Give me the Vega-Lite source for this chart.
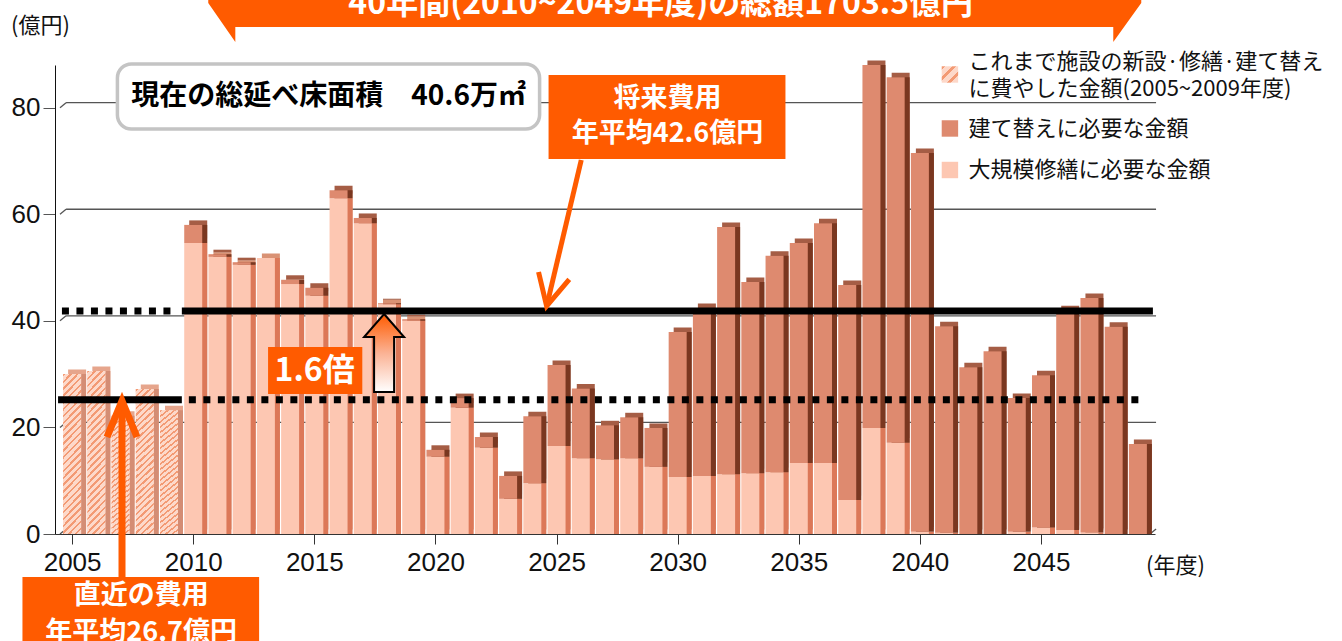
{
"$schema": "https://vega.github.io/schema/vega-lite/v6.json",
"width": 1100,
"height": 469,
"autosize": {"type": "none"},
"padding": {"left": 55, "top": 65, "right": 187, "bottom": 107},
"background": "#ffffff",
"config": {
  "view": {"stroke": null},
  "font": "Noto Sans CJK JP",
  "axis": {"labelFont": "Liberation Sans", "labelFontSize": 26, "labelColor": "#111", "titleFont": "Noto Sans CJK JP", "titleFontWeight": "normal", "titleFontSize": 22, "titleColor": "#111", "domainColor": "#222", "tickColor": "#444", "grid": false}
},
"data": {"values": [{}]},
"datasets": {
  "costs": [
    {"year": 2005, "type": "これまで施設の新設・修繕・建て替えに費やした金額(2005~2009年度)", "value": 30.0},
    {"year": 2006, "type": "これまで施設の新設・修繕・建て替えに費やした金額(2005~2009年度)", "value": 30.6},
    {"year": 2007, "type": "これまで施設の新設・修繕・建て替えに費やした金額(2005~2009年度)", "value": 22.2},
    {"year": 2008, "type": "これまで施設の新設・修繕・建て替えに費やした金額(2005~2009年度)", "value": 27.2},
    {"year": 2009, "type": "これまで施設の新設・修繕・建て替えに費やした金額(2005~2009年度)", "value": 23.2},
    {"year": 2010, "type": "大規模修繕に必要な金額", "value": 54.6}, {"year": 2010, "type": "建て替えに必要な金額", "value": 3.4},
    {"year": 2011, "type": "大規模修繕に必要な金額", "value": 52.0}, {"year": 2011, "type": "建て替えに必要な金額", "value": 0.5},
    {"year": 2012, "type": "大規模修繕に必要な金額", "value": 50.5}, {"year": 2012, "type": "建て替えに必要な金額", "value": 0.5},
    {"year": 2013, "type": "大規模修繕に必要な金額", "value": 51.8}, {"year": 2013, "type": "建て替えに必要な金額", "value": 0},
    {"year": 2014, "type": "大規模修繕に必要な金額", "value": 46.9}, {"year": 2014, "type": "建て替えに必要な金額", "value": 0.8},
    {"year": 2015, "type": "大規模修繕に必要な金額", "value": 44.7}, {"year": 2015, "type": "建て替えに必要な金額", "value": 1.5},
    {"year": 2016, "type": "大規模修繕に必要な金額", "value": 63.0}, {"year": 2016, "type": "建て替えに必要な金額", "value": 1.5},
    {"year": 2017, "type": "大規模修繕に必要な金額", "value": 58.3}, {"year": 2017, "type": "建て替えに必要な金額", "value": 1.0},
    {"year": 2018, "type": "大規模修繕に必要な金額", "value": 43.1}, {"year": 2018, "type": "建て替えに必要な金額", "value": 0.2},
    {"year": 2019, "type": "大規模修繕に必要な金額", "value": 40.0}, {"year": 2019, "type": "建て替えに必要な金額", "value": 0.3},
    {"year": 2020, "type": "大規模修繕に必要な金額", "value": 14.5}, {"year": 2020, "type": "建て替えに必要な金額", "value": 1.3},
    {"year": 2021, "type": "大規模修繕に必要な金額", "value": 23.7}, {"year": 2021, "type": "建て替えに必要な金額", "value": 1.8},
    {"year": 2022, "type": "大規模修繕に必要な金額", "value": 16.2}, {"year": 2022, "type": "建て替えに必要な金額", "value": 2.0},
    {"year": 2023, "type": "大規模修繕に必要な金額", "value": 6.6}, {"year": 2023, "type": "建て替えに必要な金額", "value": 4.3},
    {"year": 2024, "type": "大規模修繕に必要な金額", "value": 9.5}, {"year": 2024, "type": "建て替えに必要な金額", "value": 12.6},
    {"year": 2025, "type": "大規模修繕に必要な金額", "value": 16.5}, {"year": 2025, "type": "建て替えに必要な金額", "value": 15.2},
    {"year": 2026, "type": "大規模修繕に必要な金額", "value": 14.2}, {"year": 2026, "type": "建て替えに必要な金額", "value": 13.1},
    {"year": 2027, "type": "大規模修繕に必要な金額", "value": 14.0}, {"year": 2027, "type": "建て替えに必要な金額", "value": 6.4},
    {"year": 2028, "type": "大規模修繕に必要な金額", "value": 14.2}, {"year": 2028, "type": "建て替えに必要な金額", "value": 7.7},
    {"year": 2029, "type": "大規模修繕に必要な金額", "value": 12.6}, {"year": 2029, "type": "建て替えに必要な金額", "value": 7.3},
    {"year": 2030, "type": "大規模修繕に必要な金額", "value": 10.7}, {"year": 2030, "type": "建て替えに必要な金額", "value": 27.2},
    {"year": 2031, "type": "大規模修繕に必要な金額", "value": 10.9}, {"year": 2031, "type": "建て替えに必要な金額", "value": 31.5},
    {"year": 2032, "type": "大規模修繕に必要な金額", "value": 11.2}, {"year": 2032, "type": "建て替えに必要な金額", "value": 46.4},
    {"year": 2033, "type": "大規模修繕に必要な金額", "value": 11.4}, {"year": 2033, "type": "建て替えに必要な金額", "value": 35.9},
    {"year": 2034, "type": "大規模修繕に必要な金額", "value": 11.6}, {"year": 2034, "type": "建て替えに必要な金額", "value": 40.6},
    {"year": 2035, "type": "大規模修繕に必要な金額", "value": 13.3}, {"year": 2035, "type": "建て替えに必要な金額", "value": 41.3},
    {"year": 2036, "type": "大規模修繕に必要な金額", "value": 13.3}, {"year": 2036, "type": "建て替えに必要な金額", "value": 45.0},
    {"year": 2037, "type": "大規模修繕に必要な金額", "value": 6.4}, {"year": 2037, "type": "建て替えに必要な金額", "value": 40.3},
    {"year": 2038, "type": "大規模修繕に必要な金額", "value": 19.9}, {"year": 2038, "type": "建て替えに必要な金額", "value": 68.1},
    {"year": 2039, "type": "大規模修繕に必要な金額", "value": 17.1}, {"year": 2039, "type": "建て替えに必要な金額", "value": 68.6},
    {"year": 2040, "type": "大規模修繕に必要な金額", "value": 0.4}, {"year": 2040, "type": "建て替えに必要な金額", "value": 71.1},
    {"year": 2041, "type": "大規模修繕に必要な金額", "value": 0.25}, {"year": 2041, "type": "建て替えに必要な金額", "value": 38.75},
    {"year": 2042, "type": "大規模修繕に必要な金額", "value": 0}, {"year": 2042, "type": "建て替えに必要な金額", "value": 31.3},
    {"year": 2043, "type": "大規模修繕に必要な金額", "value": 0}, {"year": 2043, "type": "建て替えに必要な金額", "value": 34.3},
    {"year": 2044, "type": "大規模修繕に必要な金額", "value": 0.4}, {"year": 2044, "type": "建て替えに必要な金額", "value": 25.1},
    {"year": 2045, "type": "大規模修繕に必要な金額", "value": 1.2}, {"year": 2045, "type": "建て替えに必要な金額", "value": 28.6},
    {"year": 2046, "type": "大規模修繕に必要な金額", "value": 0.75}, {"year": 2046, "type": "建て替えに必要な金額", "value": 41.25},
    {"year": 2047, "type": "大規模修繕に必要な金額", "value": 0.3}, {"year": 2047, "type": "建て替えに必要な金額", "value": 44.0},
    {"year": 2048, "type": "大規模修繕に必要な金額", "value": 0}, {"year": 2048, "type": "建て替えに必要な金額", "value": 38.9},
    {"year": 2049, "type": "大規模修繕に必要な金額", "value": 0}, {"year": 2049, "type": "建て替えに必要な金額", "value": 16.9}
  ],
  "grid": [{"g": 20}, {"g": 40}, {"g": 60}, {"g": 80}],
  "ticks": [{"g": 0}, {"g": 20}, {"g": 40}, {"g": 60}, {"g": 80}]
},
"layer": [
  {
    "data": {"name": "grid"},
    "mark": {"type": "rule", "color": "#555555", "strokeWidth": 1.3, "yOffset": -5, "y2Offset": -5},
    "encoding": {
      "x": {"datum": 2004.75, "type": "quantitative", "scale": {"domain": [2004.5, 2049.5], "nice": false, "zero": false}},
      "x2": {"datum": 2049.75},
      "y": {"field": "g", "type": "quantitative", "scale": {"domain": [0, 88], "nice": false}}
    }
  },
  {
    "data": {"name": "ticks"},
    "mark": {"type": "rule", "color": "#555555", "strokeWidth": 1.3, "y2Offset": -5},
    "encoding": {
      "x": {"datum": 2004.5, "type": "quantitative"},
      "x2": {"datum": 2004.75},
      "y": {"field": "g", "type": "quantitative"},
      "y2": {"field": "g"}
    }
  },
  {
    "mark": {"type": "rule", "color": "#555555", "strokeWidth": 1.3, "y2Offset": -5},
    "encoding": {
      "x": {"datum": 2049.5, "type": "quantitative"},
      "x2": {"datum": 2049.75},
      "y": {"datum": 0, "type": "quantitative"},
      "y2": {"datum": 0}
    }
  },
  {
    "data": {"name": "costs"},
    "mark": {"type": "bar", "width": 18, "xOffset": 5, "x2Offset": 5, "yOffset": -4.5, "y2Offset": -4.5},
    "encoding": {
      "x": {"field": "year", "type": "quantitative"},
      "y": {"field": "value", "type": "quantitative", "stack": "zero"},
      "color": {"field": "type", "type": "nominal", "legend": null,
        "scale": {"domain": ["これまで施設の新設・修繕・建て替えに費やした金額(2005~2009年度)", "建て替えに必要な金額", "大規模修繕に必要な金額"], "range": ["#e6a58c", "#a55d45", "#d99274"]}},
      "order": {"field": "type", "sort": "ascending"}
    }
  },
  {
    "data": {"name": "costs"},
    "mark": {"type": "bar", "width": 18, "xOffset": 5, "x2Offset": 5},
    "encoding": {
      "x": {"field": "year", "type": "quantitative"},
      "y": {"field": "value", "type": "quantitative", "stack": "zero"},
      "color": {"field": "type", "type": "nominal", "legend": null,
        "scale": {"domain": ["これまで施設の新設・修繕・建て替えに費やした金額(2005~2009年度)", "建て替えに必要な金額", "大規模修繕に必要な金額"], "range": ["#d48d74", "#7a3720", "#dc7858"]}},
      "order": {"field": "type", "sort": "ascending"}
    }
  },
  {
    "data": {"name": "costs"},
    "mark": {"type": "bar", "width": 18},
    "encoding": {
      "x": {"field": "year", "type": "quantitative",
        "axis": {"values": [2005, 2010, 2015, 2020, 2025, 2030, 2035, 2040, 2045], "format": "d", "tickSize": 10, "labelPadding": 5, "domainColor": "#333333", "tickColor": "#333333",
          "title": "(年度)", "titleX": 1120, "titleY": 31, "titleAlign": "center", "titleBaseline": "middle"}},
      "y": {"field": "value", "type": "quantitative", "stack": "zero",
        "axis": {"values": [0, 20, 40, 60, 80], "tickSize": 12, "labelPadding": 3, "domainColor": "#111111", "tickColor": "#555555",
          "title": "(億円)", "titleAngle": 0, "titleX": -15, "titleY": -40, "titleAlign": "center", "titleBaseline": "middle"}},
      "color": {"field": "type", "type": "nominal", "legend": null,
        "scale": {"domain": ["これまで施設の新設・修繕・建て替えに費やした金額(2005~2009年度)", "建て替えに必要な金額", "大規模修繕に必要な金額"], "range": ["#fdd8c9", "#de8a6f", "#fdc7b2"]}},
      "order": {"field": "type", "sort": "ascending"}
    }
  },
  {
    "data": {"name": "costs"},
    "transform": [{"filter": {"field": "type", "equal": "これまで施設の新設・修繕・建て替えに費やした金額(2005~2009年度)"}}],
    "mark": {"type": "bar", "width": 18, "fill": {"gradient": "linear", "x1": 0, "y1": 0, "x2": 0.128, "y2": 1.1, "stops": [
      {"offset": 0, "color": "#f39a74"}, {"offset": 0.0142, "color": "#f39a74"}, {"offset": 0.0142, "color": "#fdd9ca"}, {"offset": 0.0385, "color": "#fdd9ca"},
      {"offset": 0.0385, "color": "#f39a74"}, {"offset": 0.0527, "color": "#f39a74"}, {"offset": 0.0527, "color": "#fdd9ca"}, {"offset": 0.0769, "color": "#fdd9ca"},
      {"offset": 0.0769, "color": "#f39a74"}, {"offset": 0.0912, "color": "#f39a74"}, {"offset": 0.0912, "color": "#fdd9ca"}, {"offset": 0.1154, "color": "#fdd9ca"},
      {"offset": 0.1154, "color": "#f39a74"}, {"offset": 0.1296, "color": "#f39a74"}, {"offset": 0.1296, "color": "#fdd9ca"}, {"offset": 0.1538, "color": "#fdd9ca"},
      {"offset": 0.1538, "color": "#f39a74"}, {"offset": 0.1681, "color": "#f39a74"}, {"offset": 0.1681, "color": "#fdd9ca"}, {"offset": 0.1923, "color": "#fdd9ca"},
      {"offset": 0.1923, "color": "#f39a74"}, {"offset": 0.2065, "color": "#f39a74"}, {"offset": 0.2065, "color": "#fdd9ca"}, {"offset": 0.2308, "color": "#fdd9ca"},
      {"offset": 0.2308, "color": "#f39a74"}, {"offset": 0.2450, "color": "#f39a74"}, {"offset": 0.2450, "color": "#fdd9ca"}, {"offset": 0.2692, "color": "#fdd9ca"},
      {"offset": 0.2692, "color": "#f39a74"}, {"offset": 0.2835, "color": "#f39a74"}, {"offset": 0.2835, "color": "#fdd9ca"}, {"offset": 0.3077, "color": "#fdd9ca"},
      {"offset": 0.3077, "color": "#f39a74"}, {"offset": 0.3219, "color": "#f39a74"}, {"offset": 0.3219, "color": "#fdd9ca"}, {"offset": 0.3462, "color": "#fdd9ca"},
      {"offset": 0.3462, "color": "#f39a74"}, {"offset": 0.3604, "color": "#f39a74"}, {"offset": 0.3604, "color": "#fdd9ca"}, {"offset": 0.3846, "color": "#fdd9ca"},
      {"offset": 0.3846, "color": "#f39a74"}, {"offset": 0.3988, "color": "#f39a74"}, {"offset": 0.3988, "color": "#fdd9ca"}, {"offset": 0.4231, "color": "#fdd9ca"},
      {"offset": 0.4231, "color": "#f39a74"}, {"offset": 0.4373, "color": "#f39a74"}, {"offset": 0.4373, "color": "#fdd9ca"}, {"offset": 0.4615, "color": "#fdd9ca"},
      {"offset": 0.4615, "color": "#f39a74"}, {"offset": 0.4758, "color": "#f39a74"}, {"offset": 0.4758, "color": "#fdd9ca"}, {"offset": 0.5, "color": "#fdd9ca"},
      {"offset": 0.5, "color": "#f39a74"}, {"offset": 0.5142, "color": "#f39a74"}, {"offset": 0.5142, "color": "#fdd9ca"}, {"offset": 0.5385, "color": "#fdd9ca"},
      {"offset": 0.5385, "color": "#f39a74"}, {"offset": 0.5527, "color": "#f39a74"}, {"offset": 0.5527, "color": "#fdd9ca"}, {"offset": 0.5769, "color": "#fdd9ca"},
      {"offset": 0.5769, "color": "#f39a74"}, {"offset": 0.5912, "color": "#f39a74"}, {"offset": 0.5912, "color": "#fdd9ca"}, {"offset": 0.6154, "color": "#fdd9ca"},
      {"offset": 0.6154, "color": "#f39a74"}, {"offset": 0.6296, "color": "#f39a74"}, {"offset": 0.6296, "color": "#fdd9ca"}, {"offset": 0.6538, "color": "#fdd9ca"},
      {"offset": 0.6538, "color": "#f39a74"}, {"offset": 0.6681, "color": "#f39a74"}, {"offset": 0.6681, "color": "#fdd9ca"}, {"offset": 0.6923, "color": "#fdd9ca"},
      {"offset": 0.6923, "color": "#f39a74"}, {"offset": 0.7065, "color": "#f39a74"}, {"offset": 0.7065, "color": "#fdd9ca"}, {"offset": 0.7308, "color": "#fdd9ca"},
      {"offset": 0.7308, "color": "#f39a74"}, {"offset": 0.7450, "color": "#f39a74"}, {"offset": 0.7450, "color": "#fdd9ca"}, {"offset": 0.7692, "color": "#fdd9ca"},
      {"offset": 0.7692, "color": "#f39a74"}, {"offset": 0.7835, "color": "#f39a74"}, {"offset": 0.7835, "color": "#fdd9ca"}, {"offset": 0.8077, "color": "#fdd9ca"},
      {"offset": 0.8077, "color": "#f39a74"}, {"offset": 0.8219, "color": "#f39a74"}, {"offset": 0.8219, "color": "#fdd9ca"}, {"offset": 0.8462, "color": "#fdd9ca"},
      {"offset": 0.8462, "color": "#f39a74"}, {"offset": 0.8604, "color": "#f39a74"}, {"offset": 0.8604, "color": "#fdd9ca"}, {"offset": 0.8846, "color": "#fdd9ca"},
      {"offset": 0.8846, "color": "#f39a74"}, {"offset": 0.8988, "color": "#f39a74"}, {"offset": 0.8988, "color": "#fdd9ca"}, {"offset": 0.9231, "color": "#fdd9ca"},
      {"offset": 0.9231, "color": "#f39a74"}, {"offset": 0.9373, "color": "#f39a74"}, {"offset": 0.9373, "color": "#fdd9ca"}, {"offset": 0.9615, "color": "#fdd9ca"},
      {"offset": 0.9615, "color": "#f39a74"}, {"offset": 0.9758, "color": "#f39a74"}, {"offset": 0.9758, "color": "#fdd9ca"}, {"offset": 1, "color": "#fdd9ca"}]}},
    "encoding": {
      "x": {"field": "year", "type": "quantitative"},
      "y": {"field": "value", "type": "quantitative"}
    }
  },
  {
    "mark": {"type": "point", "shape": "square", "size": 270, "filled": true, "strokeWidth": 0, "opacity": 1,
      "fill": {"gradient": "linear", "x1": 0, "y1": 0, "x2": 1, "y2": 1, "stops": [
        {"offset": 0, "color": "#f39a74"}, {"offset": 0.12, "color": "#f39a74"}, {"offset": 0.12, "color": "#fdd8c9"}, {"offset": 0.333, "color": "#fdd8c9"},
        {"offset": 0.333, "color": "#f39a74"}, {"offset": 0.453, "color": "#f39a74"}, {"offset": 0.453, "color": "#fdd8c9"}, {"offset": 0.667, "color": "#fdd8c9"},
        {"offset": 0.667, "color": "#f39a74"}, {"offset": 0.787, "color": "#f39a74"}, {"offset": 0.787, "color": "#fdd8c9"}, {"offset": 1, "color": "#fdd8c9"}]}},
    "encoding": {"x": {"datum": 2041.24, "type": "quantitative"}, "y": {"datum": 86.22, "type": "quantitative"}}
  },
  {
    "mark": {"type": "point", "shape": "square", "size": 270, "filled": true, "strokeWidth": 0, "opacity": 1, "fill": "#de8a6f"},
    "encoding": {"x": {"datum": 2041.24, "type": "quantitative"}, "y": {"datum": 76.09, "type": "quantitative"}}
  },
  {
    "mark": {"type": "point", "shape": "square", "size": 270, "filled": true, "strokeWidth": 0, "opacity": 1, "fill": "#fdc7b2"},
    "encoding": {"x": {"datum": 2041.24, "type": "quantitative"}, "y": {"datum": 68.3, "type": "quantitative"}}
  },
  {
    "mark": {"type": "text", "text": "これまで施設の新設·修繕·建て替え", "fontSize": 22, "align": "left", "color": "#111111"},
    "encoding": {"x": {"datum": 2042.01, "type": "quantitative"}, "y": {"datum": 88.57, "type": "quantitative"}}
  },
  {
    "mark": {"type": "text", "text": "に費やした金額(2005~2009年度)", "fontSize": 22, "align": "left", "color": "#111111"},
    "encoding": {"x": {"datum": 2042.01, "type": "quantitative"}, "y": {"datum": 83.5, "type": "quantitative"}}
  },
  {
    "mark": {"type": "text", "text": "建て替えに必要な金額", "fontSize": 22, "align": "left", "color": "#111111"},
    "encoding": {"x": {"datum": 2042.01, "type": "quantitative"}, "y": {"datum": 75.99, "type": "quantitative"}}
  },
  {
    "mark": {"type": "text", "text": "大規模修繕に必要な金額", "fontSize": 22, "align": "left", "color": "#111111"},
    "encoding": {"x": {"datum": 2042.01, "type": "quantitative"}, "y": {"datum": 68.3, "type": "quantitative"}}
  },
  {
    "mark": {"type": "rule", "color": "#000000", "strokeWidth": 7, "strokeDash": [7, 7.5], "yOffset": 4},
    "encoding": {"x": {"datum": 2004.58, "type": "quantitative"}, "x2": {"datum": 2009.2}, "y": {"datum": 42.6, "type": "quantitative"}}
  },
  {
    "mark": {"type": "rule", "color": "#000000", "strokeWidth": 7, "yOffset": 4},
    "encoding": {"x": {"datum": 2009.53, "type": "quantitative"}, "x2": {"datum": 2049.62}, "y": {"datum": 42.6, "type": "quantitative"}}
  },
  {
    "mark": {"type": "rule", "color": "#000000", "strokeWidth": 7, "yOffset": 8},
    "encoding": {"x": {"datum": 2004.42, "type": "quantitative"}, "x2": {"datum": 2009.53}, "y": {"datum": 26.7, "type": "quantitative"}}
  },
  {
    "mark": {"type": "rule", "color": "#000000", "strokeWidth": 7, "strokeDash": [7, 7.5], "yOffset": 8},
    "encoding": {"x": {"datum": 2009.82, "type": "quantitative"}, "x2": {"datum": 2049.3}, "y": {"datum": 26.7, "type": "quantitative"}}
  },
  {
    "mark": {"type": "point", "shape": "M -1 -0.0772 L 1 -0.0772 L 1 -0.0279 L 0.94 0.0557 L 0.94 0.0236 L -0.942 0.0236 L -0.942 0.0557 L -1 -0.0279 Z", "size": 870489, "filled": true, "fill": "#ff5b00", "strokeWidth": 0, "opacity": 1},
    "encoding": {"x": {"datum": 2029.88, "type": "quantitative"}, "y": {"datum": 97.19, "type": "quantitative"}}
  },
  {
    "mark": {"type": "text", "text": "40年間(2010~2049年度)の総額1703.5億円", "fontSize": 32, "fontWeight": "bold", "color": "#ffffff", "baseline": "alphabetic"},
    "encoding": {"x": {"datum": 2029.3, "type": "quantitative"}, "y": {"datum": 97.57, "type": "quantitative"}}
  },
  {
    "mark": {"type": "rect", "fill": "#ffffff", "stroke": "#c4c4c4", "strokeWidth": 3.5, "cornerRadius": 14},
    "encoding": {"x": {"datum": 2006.87, "type": "quantitative"}, "x2": {"datum": 2024.3}, "y": {"datum": 88.19, "type": "quantitative"}, "y2": {"datum": 75.99}}
  },
  {
    "mark": {"type": "text", "text": "現在の総延べ床面積　40.6万㎡", "fontSize": 28, "fontWeight": "bold", "color": "#000000"},
    "encoding": {"x": {"datum": 2015.59, "type": "quantitative"}, "y": {"datum": 82.0, "type": "quantitative"}}
  },
  {
    "mark": {"type": "rect", "fill": "#ff5b00"},
    "encoding": {"x": {"datum": 2024.67, "type": "quantitative"}, "x2": {"datum": 2034.45}, "y": {"datum": 86.12, "type": "quantitative"}, "y2": {"datum": 70.36}}
  },
  {
    "mark": {"type": "text", "text": "将来費用", "fontSize": 27, "fontWeight": "bold", "color": "#ffffff"},
    "encoding": {"x": {"datum": 2029.58, "type": "quantitative"}, "y": {"datum": 81.6, "type": "quantitative"}}
  },
  {
    "mark": {"type": "text", "text": "年平均42.6億円", "fontSize": 27, "fontWeight": "bold", "color": "#ffffff"},
    "encoding": {"x": {"datum": 2029.58, "type": "quantitative"}, "y": {"datum": 75.0, "type": "quantitative"}}
  },
  {
    "mark": {"type": "rule", "color": "#ff5b00", "strokeWidth": 5},
    "encoding": {"x": {"datum": 2026.02, "type": "quantitative"}, "y": {"datum": 70.18, "type": "quantitative"}, "x2": {"datum": 2024.62}, "y2": {"datum": 43.3}}
  },
  {
    "mark": {"type": "point", "shape": "M -0.878 1.733 L 0 0 L 0.878 1.733", "size": 1296, "filled": false, "color": "#ff5b00", "strokeWidth": 5, "strokeJoin": "miter", "angle": 193.5, "opacity": 1},
    "encoding": {"x": {"datum": 2024.59, "type": "quantitative"}, "y": {"datum": 42.78, "type": "quantitative"}}
  },
  {
    "mark": {"type": "rect", "fill": "#ff5b00"},
    "encoding": {"x": {"datum": 2013.09, "type": "quantitative"}, "x2": {"datum": 2016.98}, "y": {"datum": 35.09, "type": "quantitative"}, "y2": {"datum": 26.27}}
  },
  {
    "mark": {"type": "text", "text": "1.6倍", "fontSize": 32, "fontWeight": "bold", "color": "#ffffff"},
    "encoding": {"x": {"datum": 2015.01, "type": "quantitative"}, "y": {"datum": 30.58, "type": "quantitative"}}
  },
  {
    "mark": {"type": "point", "shape": "M 0 -0.975 L 0.5 -0.4 L 0.25 -0.4 L 0.25 0.975 L -0.25 0.975 L -0.25 -0.4 L -0.5 -0.4 Z", "size": 6400, "filled": true,
      "fill": {"gradient": "linear", "x1": 0, "y1": 0, "x2": 0, "y2": 1, "stops": [{"offset": 0, "color": "#ff5b00"}, {"offset": 0.5, "color": "#fbb294"}, {"offset": 1, "color": "#ffffff"}]},
      "stroke": "#000000", "strokeWidth": 2, "opacity": 1},
    "encoding": {"x": {"datum": 2017.88, "type": "quantitative"}, "y": {"datum": 33.96, "type": "quantitative"}}
  },
  {
    "mark": {"type": "rect", "fill": "#ff5b00"},
    "encoding": {"x": {"datum": 2002.95, "type": "quantitative"}, "x2": {"datum": 2012.72}, "y": {"datum": -8.07, "type": "quantitative"}, "y2": {"datum": -23.6}}
  },
  {
    "mark": {"type": "text", "text": "直近の費用", "fontSize": 27, "fontWeight": "bold", "color": "#ffffff"},
    "encoding": {"x": {"datum": 2007.85, "type": "quantitative"}, "y": {"datum": -11.6, "type": "quantitative"}}
  },
  {
    "mark": {"type": "text", "text": "年平均26.7億円", "fontSize": 27, "fontWeight": "bold", "color": "#ffffff"},
    "encoding": {"x": {"datum": 2007.85, "type": "quantitative"}, "y": {"datum": -18.6, "type": "quantitative"}}
  },
  {
    "mark": {"type": "rule", "color": "#ff5b00", "strokeWidth": 7},
    "encoding": {"x": {"datum": 2007.06, "type": "quantitative"}, "y": {"datum": -8.07, "type": "quantitative"}, "y2": {"datum": 24.4}}
  },
  {
    "mark": {"type": "point", "shape": "M -0.833 2 L 0 0 L 0.833 2", "size": 1296, "filled": false, "color": "#ff5b00", "strokeWidth": 7, "strokeJoin": "miter", "opacity": 1},
    "encoding": {"x": {"datum": 2007.06, "type": "quantitative"}, "y": {"datum": 24.96, "type": "quantitative"}}
  }
],
"resolve": {"scale": {"color": "independent"}}
}
